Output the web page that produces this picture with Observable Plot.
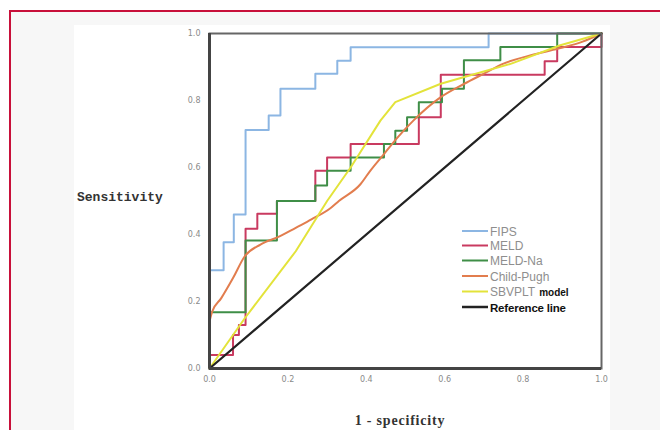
<!DOCTYPE html>
<html><head><meta charset="utf-8">
<script src="https://cdn.jsdelivr.net/npm/d3@7"></script>
<script src="https://cdn.jsdelivr.net/npm/@observablehq/plot@0.6"></script>
<style>
html,body{margin:0;padding:0;background:#ffffff;}
#wrap{position:relative;width:660px;height:430px;overflow:hidden;}
#border{position:absolute;left:9px;top:10px;width:700px;height:500px;border-left:2px solid #c8103a;border-top:2px solid #c8103a;background:#f7f7f7;}
#panel{position:absolute;left:74px;top:25px;width:536px;height:420px;background:#ffffff;}
#chart{position:absolute;left:0;top:0;}
</style></head><body>
<div id="wrap"><div id="border"></div><div id="panel"></div><div id="chart"></div></div>
<script>
// ---- data ----
const seriesNames = ["FIPS", "MELD", "MELD-Na", "Child-Pugh", "SBVPLT model", "Reference line"];
const seriesColors = ["#8cb6e3", "#c93a60", "#3f8e47", "#e27d4e", "#e3e33a", "#222222"];
const tickValues = [0, 0.2, 0.4, 0.6, 0.8, 1.0];

const fipsX = [0,0,0.036,0.036,0.062,0.062,0.092,0.092,0.151,0.151,0.181,0.181,0.27,0.27,0.326,0.326,0.36,0.36,0.712,0.712,1];
const fipsY = [0,0.293,0.293,0.377,0.377,0.46,0.46,0.712,0.712,0.755,0.755,0.835,0.835,0.88,0.88,0.919,0.919,0.959,0.959,1,1];

const meldX = [0,0,0.06,0.06,0.075,0.075,0.092,0.092,0.122,0.122,0.172,0.172,0.27,0.27,0.30,0.30,0.36,0.36,0.534,0.534,0.59,0.59,0.855,0.855,0.887,0.887,1,1];
const meldY = [0,0.04,0.04,0.10,0.10,0.13,0.13,0.417,0.417,0.462,0.462,0.50,0.50,0.59,0.59,0.63,0.63,0.67,0.67,0.75,0.75,0.877,0.877,0.917,0.917,0.96,0.96,1];

const meldNaX = [0,0,0.092,0.092,0.172,0.172,0.27,0.27,0.30,0.30,0.36,0.36,0.445,0.445,0.474,0.474,0.504,0.504,0.534,0.534,0.593,0.593,0.649,0.649,0.742,0.742,0.887,0.887,1];
const meldNaY = [0,0.168,0.168,0.382,0.382,0.50,0.50,0.546,0.546,0.59,0.59,0.63,0.63,0.67,0.67,0.71,0.71,0.75,0.75,0.795,0.795,0.835,0.835,0.92,0.92,0.96,0.96,1,1];

const childPughX = [0,0.007,0.03,0.06,0.09,0.13,0.18,0.22,0.26,0.31,0.33,0.385,0.41,0.445,0.48,0.52,0.59,0.65,0.70,0.75,0.82,0.89,0.95,1];
const childPughY = [0.14,0.17,0.21,0.27,0.335,0.37,0.395,0.42,0.445,0.48,0.50,0.55,0.59,0.64,0.69,0.74,0.81,0.85,0.88,0.91,0.935,0.955,0.975,1];

const sbvpltX = [0,0.09,0.22,0.30,0.36,0.436,0.474,0.59,0.65,0.77,0.895,1];
const sbvpltY = [0,0.15,0.35,0.50,0.60,0.74,0.795,0.85,0.87,0.91,0.965,1];

const refX = [0,1];
const refY = [0,1];

// ---- build table ----
const seriesX = [fipsX, meldX, meldNaX, childPughX, sbvpltX, refX];
const seriesY = [fipsY, meldY, meldNaY, childPughY, sbvpltY, refY];
const curves = ["linear","linear","linear","monotone-x","linear","linear"];
const tables = seriesNames.map((name, i) => seriesX[i].map((x, j) => ({series: name, x, y: seriesY[i][j]})));

const fmt = d3.format(".1f");
const plot = Plot.plot({
  width: 660, height: 430,
  marginLeft: 209, marginRight: 59, marginTop: 33, marginBottom: 62,
  x: {domain: [0, 1]},
  y: {domain: [0, 1]},
  style: {background: "transparent", fontFamily: "DejaVu Sans", fontSize: "8px", color: "#8a8a8a"},
  marks: [
    Plot.axisX({ticks: tickValues, tickFormat: fmt, tickSize: 0, tickPadding: 8, fill: "#8a8a8a", fontSize: 8, label: null}),
    Plot.axisY({ticks: tickValues, tickFormat: fmt, tickSize: 0, tickPadding: 9, fill: "#8a8a8a", fontSize: 8, label: null}),
    ...tables.map((t, i) => Plot.line(t, {x: "x", y: "y", stroke: seriesColors[i], strokeWidth: i === 5 ? 2.2 : 2, curve: curves[i]})),
    Plot.frame({stroke: "#666", strokeWidth: 2}),
    Plot.ruleX([0], {stroke: "#444", strokeWidth: 3}),
    Plot.ruleY([0], {stroke: "#444", strokeWidth: 3})
  ]
});
document.getElementById("chart").appendChild(plot);

// ---- labels and legend ----
const svg = d3.select(plot);
svg.append("text").attr("x", 77).attr("y", 201).attr("text-anchor", "start")
  .attr("font-family", "Liberation Mono").attr("font-weight", "bold").attr("font-size", 13)
  .attr("fill", "#333").text("Sensitivity");
svg.append("text").attr("x", 400).attr("y", 425).attr("text-anchor", "middle")
  .attr("font-family", "Liberation Serif").attr("font-weight", "bold").attr("font-size", 14)
  .attr("letter-spacing", 0.8).attr("fill", "#333").text("1 - specificity");

const legendY = [231, 245.5, 260.5, 276, 291.5, 307];
const lg = svg.append("g").attr("text-anchor", "start");
seriesNames.forEach((name, i) => {
  const y = legendY[i];
  lg.append("line").attr("x1", 462).attr("x2", 488).attr("y1", y).attr("y2", y)
    .attr("stroke", seriesColors[i]).attr("stroke-width", i === 5 ? 2.5 : 2);
  const t = lg.append("text").attr("x", 490).attr("y", y + 4.5).attr("text-anchor", "start")
    .attr("font-family", "Liberation Sans").attr("font-size", 12);
  if (i < 4) {
    t.attr("fill", "#8e8e8e").text(name);
  } else if (i === 4) {
    const parts = name.split(" ");
    t.append("tspan").attr("fill", "#8e8e8e").text(parts[0]);
    t.append("tspan").attr("dx", 4).attr("fill", "#111").attr("font-weight", "bold").attr("font-size", 10).text(parts[1]);
  } else {
    t.attr("fill", "#111").attr("font-weight", "bold").attr("font-size", 11.5).attr("letter-spacing", -0.2).text(name);
  }
});
</script>
</body></html>
